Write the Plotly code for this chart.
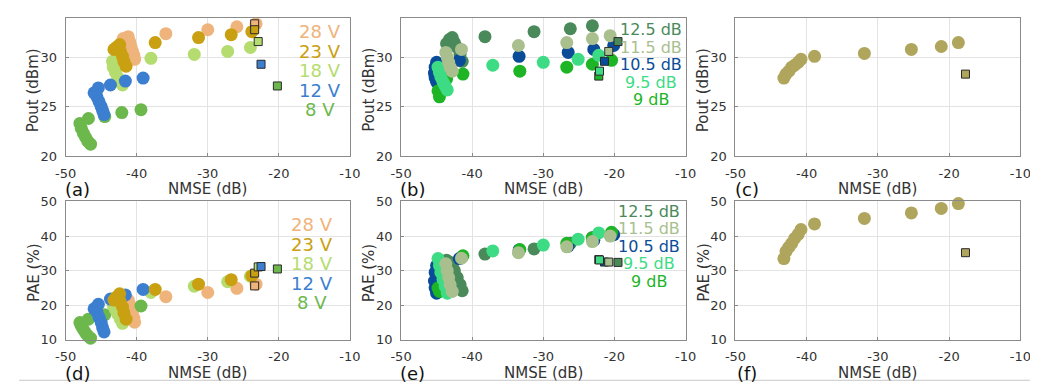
import plotly.graph_objects as go

# ---------------- data ----------------
# Panels (a)/(d): supply voltage sweep
v28_nmse = [-41.9, -41.2, -41.0, -40.8, -40.6, -40.4, -40.3, -35.9, -30.0, -25.9, -23.2]
v28_pout = [31.9, 32.1, 31.6, 31.1, 30.6, 30.2, 29.8, 32.4, 32.8, 33.1, 33.4]
v28_pae = [21.0, 21.5, 20.3, 19.0, 17.7, 16.3, 15.1, 22.5, 23.7, 24.9, 26.1]
v28_sq = (-23.4, 33.4, 25.6)

v23_nmse = [-43.2, -42.9, -42.4, -42.3, -42.0, -41.8, -41.5, -37.4, -31.3, -26.7, -23.8]
v23_pout = [30.8, 31.0, 31.3, 30.6, 30.1, 29.6, 29.1, 31.5, 32.0, 32.3, 32.6]
v23_pae = [21.5, 22.3, 23.3, 21.0, 19.5, 17.8, 16.0, 24.6, 26.1, 27.4, 28.5]
v23_sq = (-23.4, 32.8, 29.3)

v18_nmse = [-43.4, -43.3, -43.0, -42.7, -42.3, -42.0, -38.0, -31.9, -27.2, -24.0]
v18_pout = [29.6, 29.0, 28.5, 28.0, 27.5, 27.2, 29.9, 30.3, 30.6, 31.0]
v18_pae = [21.5, 20.0, 18.8, 17.5, 16.0, 14.8, 23.7, 25.5, 26.8, 28.4]
v18_sq = (-22.9, 31.6, 31.1)

v12_nmse = [-46.0, -45.4, -45.6, -45.3, -45.0, -44.8, -44.6, -43.7, -41.6, -39.1]
v12_pout = [26.4, 26.9, 26.0, 25.5, 25.0, 24.6, 24.2, 27.2, 27.6, 27.9]
v12_pae = [19.0, 20.3, 18.0, 16.5, 15.0, 13.5, 12.3, 21.8, 23.0, 24.6]
v12_sq = (-22.5, 29.3, 31.2)

v8_nmse = [-48.0, -47.8, -47.5, -47.2, -46.9, -46.5, -46.8, -44.5, -42.1, -39.4]
v8_pout = [23.3, 22.8, 22.3, 21.9, 21.5, 21.2, 23.8, 24.0, 24.4, 24.7]
v8_pae = [15.0, 14.0, 13.0, 12.0, 11.2, 10.5, 16.0, 17.3, 18.5, 19.8]
v8_sq = (-20.2, 27.1, 30.5)

# Panels (b)/(e): gain sweep
g125_nmse = [-43.6, -43.2, -42.8, -42.5, -42.1, -41.7, -41.4, -38.2, -31.3, -26.2, -23.1]
g125_pout = [31.4, 31.8, 32.0, 31.5, 31.0, 30.3, 29.6, 32.1, 32.6, 32.9, 33.2]
g125_pae = [33.0, 32.5, 31.5, 30.0, 28.0, 26.0, 24.2, 34.8, 36.3, 37.9, 39.6]
g125_sq = (-19.5, 31.6, 32.4)

g115_nmse = [-43.7, -43.5, -43.3, -43.1, -42.8, -41.5, -33.5, -26.7, -23.1, -20.6]
g115_pout = [30.5, 30.0, 29.5, 29.0, 28.6, 30.8, 31.2, 31.5, 31.9, 32.2]
g115_pae = [32.0, 30.0, 28.0, 26.0, 24.0, 33.6, 35.2, 36.9, 38.4, 40.0]
g115_sq = (-20.8, 30.6, 32.5)

g105_nmse = [-45.0, -45.2, -45.3, -45.2, -45.0, -41.8, -33.4, -26.5, -22.9, -20.1]
g105_pout = [29.5, 29.0, 28.4, 27.9, 27.5, 29.7, 30.1, 30.5, 30.8, 31.2]
g105_pae = [31.5, 29.5, 27.0, 25.0, 23.5, 33.5, 36.0, 37.1, 38.8, 40.4]
g105_sq = (-21.4, 29.6, 32.5)

g95_nmse = [-44.8, -44.6, -44.4, -44.1, -43.8, -43.5, -37.1, -30.0, -25.1, -22.2]
g95_pout = [29.0, 28.5, 28.0, 27.5, 27.1, 26.7, 29.2, 29.5, 29.8, 30.2]
g95_pae = [33.5, 31.5, 29.5, 27.5, 25.5, 23.5, 35.7, 37.4, 39.1, 40.9]
g95_sq = (-22.1, 28.6, 33.1)

g9_nmse = [-44.8, -44.6, -43.6, -41.3, -33.3, -26.7, -23.1, -20.4]
g9_pout = [26.6, 26.0, 27.8, 28.3, 28.6, 29.0, 29.3, 29.7]
g9_pae = [25.0, 24.0, 30.0, 34.3, 36.1, 37.9, 39.4, 41.1]
g9_sq = (-22.2, 28.1, 33.2)

# Panels (c)/(f)
c_nmse = [-43.2, -42.9, -42.5, -42.1, -41.7, -41.2, -40.8, -38.9, -31.9, -25.3, -21.1, -18.7]
c_pout = [27.9, 28.3, 28.6, 29.0, 29.2, 29.5, 29.8, 30.1, 30.4, 30.8, 31.1, 31.5]
c_pae = [33.5, 35.6, 36.8, 37.9, 39.3, 40.5, 41.9, 43.5, 45.1, 46.7, 48.0, 49.4]
c_sq = (-17.7, 28.3, 35.2)

x_ticks = [-50, -40, -30, -20, -10]
x_ticktext = ["-50", "-40", "-30", "-20", "-10"]
pout_ticks = [20, 25, 30]
pae_ticks = [10, 20, 30, 40, 50]

v_labels = ["28 V", "23 V", "18 V", "12 V", "8 V"]
g_labels = ["12.5 dB", "11.5 dB", "10.5 dB", "9.5 dB", "9 dB"]
panel_labels = ["(a)", "(b)", "(c)", "(d)", "(e)", "(f)"]

# ---------------- styles ----------------
C28, C23, C18, C12, C8 = "#EFB37C", "#C9A012", "#B5DC6E", "#3C7FD0", "#6CB84C"
G125, G115, G105, G95, G9 = "#4A8A5A", "#A9BF8E", "#0B4C99", "#3DDC84", "#1DB526"
COL_C = "#B0A55C"
FONT = "DejaVu Sans"
W, H = 1038, 387

fig = go.Figure()

def circles(x, y, color, ax):
    fig.add_trace(go.Scatter(x=x, y=y, mode="markers", xaxis="x" + ax, yaxis="y" + ax,
                             marker=dict(symbol="circle", size=13, color=color, line=dict(width=0)),
                             cliponaxis=False, showlegend=False, hoverinfo="skip"))

def square(pt, which, color, ax):
    fig.add_trace(go.Scatter(x=[pt[0]], y=[pt[which]], mode="markers", xaxis="x" + ax, yaxis="y" + ax,
                             marker=dict(symbol="square", size=8, color=color,
                                         line=dict(width=1, color="#2a2a2a")),
                             cliponaxis=False, showlegend=False, hoverinfo="skip"))

# (a) and (d)
vser = [(v28_nmse, v28_pout, v28_pae, C28), (v8_nmse, v8_pout, v8_pae, C8),
        (v18_nmse, v18_pout, v18_pae, C18), (v12_nmse, v12_pout, v12_pae, C12),
        (v23_nmse, v23_pout, v23_pae, C23)]
for x, p, e, c in vser:
    circles(x, p, c, "")
    circles(x, e, c, "4")
vsq = [(v28_sq, C28), (v23_sq, C23), (v18_sq, C18), (v12_sq, C12), (v8_sq, C8)]
for pt, c in vsq:
    square(pt, 1, c, "")
    square(pt, 2, c, "4")

# (b) and (e)
gser = [(g125_nmse, g125_pout, g125_pae, G125), (g105_nmse, g105_pout, g105_pae, G105),
        (g9_nmse, g9_pout, g9_pae, G9), (g95_nmse, g95_pout, g95_pae, G95),
        (g115_nmse, g115_pout, g115_pae, G115)]
for x, p, e, c in gser:
    circles(x, p, c, "2")
    circles(x, e, c, "5")
gsq = [(g125_sq, G125), (g105_sq, G105), (g115_sq, G115), (g9_sq, G9), (g95_sq, G95)]
for pt, c in gsq:
    square(pt, 1, c, "2")
    square(pt, 2, c, "5")

# (c) and (f)
circles(c_nmse, c_pout, COL_C, "3")
circles(c_nmse, c_pae, COL_C, "6")
square(c_sq, 1, COL_C, "3")
square(c_sq, 2, COL_C, "6")

# ---------------- axes ----------------
xdom = [(47.7, 338.0), (390.3, 681.0), (732.0, 1023.0)]
ydom = [(3.0, 146.7), (194.0, 338.0)]

def px2x(px):
    return px / W

def py2y(py):
    return 1 - py / H

axcommon = dict(showline=True, mirror=True, linecolor="#8a8a8a", linewidth=1,
                showgrid=True, gridcolor="#e3e3e3", gridwidth=1, zeroline=False,
                ticks="inside", ticklen=3, tickcolor="#8a8a8a",
                tickfont=dict(family=FONT, size=13, color="#333333"),
                ticklabelstandoff=5)

layout = dict(width=W, height=H, margin=dict(l=0, r=0, t=0, b=0),
              paper_bgcolor="white", plot_bgcolor="white", showlegend=False)

for i in range(6):
    r, c = divmod(i, 3)
    n = "" if i == 0 else str(i + 1)
    xa = dict(axcommon, domain=[px2x(xdom[c][0]), px2x(xdom[c][1])], range=[-50, -10],
              tickvals=x_ticks, ticktext=x_ticktext, anchor="y" + n)
    ya = dict(axcommon, domain=[py2y(ydom[r][1]), py2y(ydom[r][0])], anchor="x" + n)
    if r == 0:
        ya.update(range=[20, 34], tickvals=pout_ticks)
    else:
        ya.update(range=[10, 50], tickvals=pae_ticks)
    layout["xaxis" + n] = xa
    layout["yaxis" + n] = ya

fig.update_layout(**layout)

# ---------------- text ----------------
ann = []
title_font = dict(family=FONT, size=15, color="#333333")
for r in range(2):
    for c in range(3):
        cx = (xdom[c][0] + xdom[c][1]) / 2
        ty = 181 if r == 0 else 372
        ann.append(dict(x=px2x(cx), y=py2y(ty), xref="paper", yref="paper", text="NMSE (dB)",
                        showarrow=False, font=title_font, xanchor="center", yanchor="middle"))
        ylab = "Pout (dBm)" if r == 0 else "PAE (%)"
        ymid = 78 if r == 0 else 268
        ann.append(dict(x=px2x(xdom[c][0] - 33), y=py2y(ymid), xref="paper", yref="paper",
                        text=ylab, textangle=-90, showarrow=False, font=title_font,
                        xanchor="center", yanchor="middle"))
        lx = xdom[c][0] + 12
        ly = 182 if r == 0 else 373
        ann.append(dict(x=px2x(lx), y=py2y(ly), xref="paper", yref="paper",
                        text=panel_labels[r * 3 + c], showarrow=False,
                        font=dict(family=FONT, size=18, color="#111111"),
                        xanchor="center", yanchor="middle"))

vcols = [C28, C23, C18, C12, C8]
for k, lab in enumerate(v_labels):
    for base, cx in ((17.5, 308), (218, 299)):
        ann.append(dict(x=px2x(cx), y=py2y(base + 20.3 * k), xref="paper", yref="paper",
                        text=lab, showarrow=False, borderpad=0,
                        font=dict(family=FONT, size=18, color=vcols[k]),
                        xanchor="center", yanchor="middle"))
gcols = [G125, G115, G105, G95, G9]
for k, lab in enumerate(g_labels):
    for base, cx in ((15, 646), (204, 644)):
        ann.append(dict(x=px2x(cx), y=py2y(base + 18.3 * k), xref="paper", yref="paper",
                        text=lab, showarrow=False, borderpad=0,
                        font=dict(family=FONT, size=16, color=gcols[k]),
                        xanchor="center", yanchor="middle"))

fig.update_layout(annotations=ann)
fig.add_shape(type="line", xref="paper", yref="paper", x0=0, x1=1, y0=py2y(380), y1=py2y(380),
              line=dict(color="#c8c8c8", width=1))

fig.write_html("out.html")
